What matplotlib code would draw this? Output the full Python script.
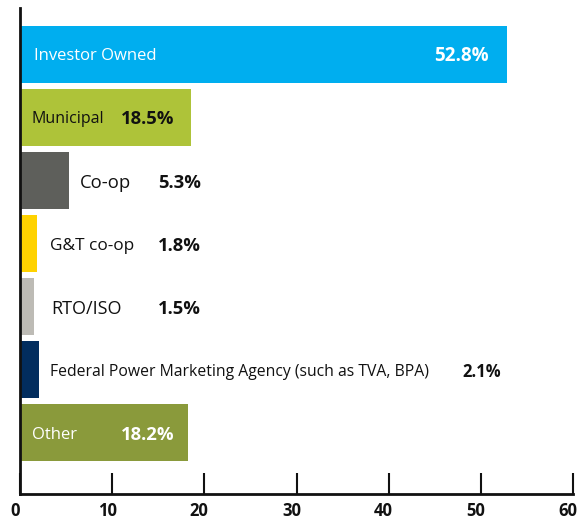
import matplotlib
matplotlib.use("Agg")
import matplotlib.pyplot as plt
from matplotlib.transforms import offset_copy

plt.rcParams['font.family'] = ['Open Sans', 'DejaVu Sans']

categories = ["Investor Owned", "Municipal", "Co-op", "G&T co-op", "RTO/ISO",
              "Federal Power Marketing Agency (such as TVA, BPA)", "Other"]
values = [52.8, 18.5, 5.3, 1.8, 1.5, 2.1, 18.2]
pct_labels = ["52.8%", "18.5%", "5.3%", "1.8%", "1.5%", "2.1%", "18.2%"]
colors = ["#00AEEF", "#AEC339", "#5E5F5B", "#FFD200", "#BDBBB5", "#022D5E", "#8A9A3B"]
xticks = [0, 10, 20, 30, 40, 50, 60]

# label placement (data x for name, data x for percentage right edge), text colours, sizes
name_x = [1.5, 1.3, 6.5, 3.25, 3.35, 3.3, 1.3]
pct_x = [50.9, 16.8, 19.6, 19.6, 19.6, 52.2, 16.8]
txt_col = ["white", "#111111", "#111111", "#111111", "#111111", "#111111", "white"]
name_size = [12, 11.5, 13.3, 12.4, 13, 11.3, 12]
pct_size = [13.5, 13.3, 13.3, 13.3, 13.3, 12, 13.3]

fig = plt.figure(figsize=(5.79, 5.19), dpi=100)
ax = fig.add_axes([20/579, 1 - 494/519, 553/579, 486/519])

ypos = list(range(len(values)))
ax.barh(ypos, values, height=0.905, color=colors, zorder=2)

shift = offset_copy(ax.transData, fig=fig, x=0, y=-2, units='dots')
for i in ypos:
    ax.text(name_x[i], i, categories[i], color=txt_col[i], fontsize=name_size[i],
            va='center', ha='left', zorder=3, transform=shift)
    ax.text(pct_x[i], i, pct_labels[i], color=txt_col[i], fontsize=pct_size[i],
            fontweight='bold', va='center', ha='right', zorder=3, transform=shift)

ax.set_xlim(0, 60)
ax.set_ylim(6.976, -0.738)
ax.set_xticks(xticks)
ax.set_xticklabels([str(t) for t in xticks], fontsize=12, fontweight='bold')
ax.set_yticks([])
ax.tick_params(axis='x', direction='in', length=15, width=1.5, pad=6, colors='#111111')
for lbl in ax.get_xticklabels():
    lbl.set_transform(offset_copy(lbl.get_transform(), fig=fig, x=-5, y=0, units='dots'))
for s in ['top', 'right']:
    ax.spines[s].set_visible(False)
ax.spines['left'].set_linewidth(2)
ax.spines['bottom'].set_linewidth(2)
ax.spines['left'].set_color('#111111')
ax.spines['bottom'].set_color('#111111')

fig.savefig("out.png", dpi=100)
